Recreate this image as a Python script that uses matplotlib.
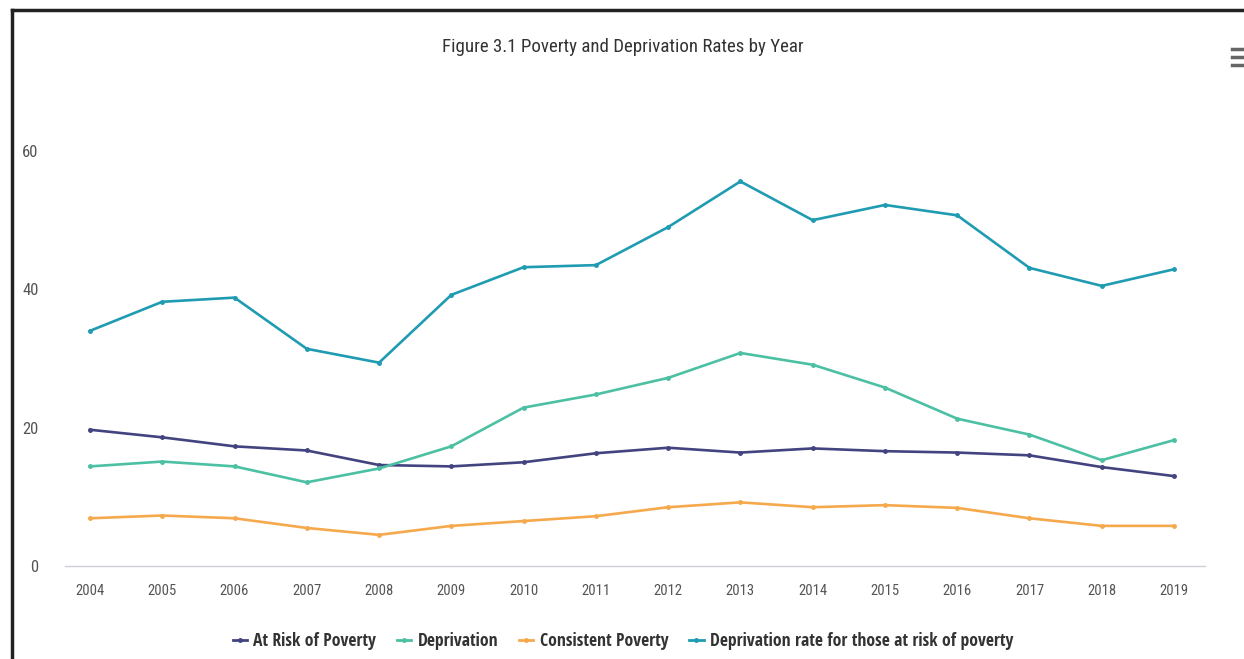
import matplotlib
matplotlib.use("Agg")
import matplotlib.pyplot as plt
from matplotlib.lines import Line2D

years = list(range(2004, 2020))
at_risk_of_poverty = [19.7, 18.6, 17.3, 16.7, 14.6, 14.4, 15.0, 16.3, 17.1, 16.4, 17.0, 16.6, 16.4, 16.0, 14.3, 13.0]
deprivation = [14.4, 15.1, 14.4, 12.1, 14.1, 17.3, 22.9, 24.8, 27.2, 30.8, 29.1, 25.8, 21.3, 19.0, 15.3, 18.2]
consistent_poverty = [6.9, 7.3, 6.9, 5.5, 4.5, 5.8, 6.5, 7.2, 8.5, 9.2, 8.5, 8.8, 8.4, 6.9, 5.8, 5.8]
deprivation_at_risk = [34.0, 38.2, 38.8, 31.4, 29.4, 39.2, 43.2, 43.5, 49.0, 55.6, 50.0, 52.2, 50.7, 43.1, 40.5, 42.9]

series_names = ["At Risk of Poverty", "Deprivation", "Consistent Poverty",
                "Deprivation rate for those at risk of poverty"]
series_colors = ["#434380", "#4cc0a2", "#f6a94c", "#1f9bb2"]
y_ticks = [0, 20, 40, 60]

FONT = ["Roboto Condensed", "DejaVu Sans"]
LEGEND_FONT = ["Open Sans Condensed", "Roboto Condensed", "DejaVu Sans"]
plt.rcParams["font.family"] = FONT

W, H = 1244, 659
fig = plt.figure(figsize=(W / 100, H / 100), dpi=100)
fig.patch.set_facecolor("white")

# plot area in pixel terms
left_px, right_px, top_px, base_px = 65, 1205, 130, 566
ax = fig.add_axes([left_px / W, 1 - base_px / H, (right_px - left_px) / W, (base_px - top_px) / H])

for vals, col in zip([at_risk_of_poverty, deprivation, consistent_poverty, deprivation_at_risk], series_colors):
    ax.plot(years, vals, color=col, lw=1.9, marker="o", markersize=2.5, solid_joinstyle="round")

px_per_year = (1174 - 90) / 15
ax.set_xlim(2004 - (90 - left_px) / px_per_year, 2019 + (right_px - 1174) / px_per_year)
px_per_unit = (566 - 151) / 60
ax.set_ylim(0, (base_px - top_px) / px_per_unit)

ax.set_xticks(years)
ax.set_xticklabels([str(y) for y in years])
ax.set_yticks(y_ticks)
ax.tick_params(axis="x", length=0, pad=13, labelsize=10.5, labelcolor="#555555")
ax.tick_params(axis="y", length=0, pad=19, labelsize=12, labelcolor="#555555")
for s in ["top", "right", "left"]:
    ax.spines[s].set_visible(False)
ax.spines["bottom"].set_color("#ccd0d8")
ax.spines["bottom"].set_linewidth(1.0)

fig.text(623 / W, 1 - 47 / H, "Figure 3.1 Poverty and Deprivation Rates by Year",
         ha="center", va="center", fontsize=13.6, color="#333333")

handles = [Line2D([0], [0], color=c, lw=2.0, marker="o", markersize=2.5) for c in series_colors]
leg = fig.legend(handles, series_names, loc="center", bbox_to_anchor=(623 / W, 1 - 641 / H),
                 ncol=4, frameon=False, handlelength=0.8, handletextpad=0.35, columnspacing=1.2,
                 prop={"family": LEGEND_FONT, "size": 12.7})
for t in leg.get_texts():
    t.set_color("#333333")

# frame edges along the top and left
fig.add_artist(Line2D([12 / W, 1.0], [1 - 10 / H, 1 - 10 / H], color="#222222", lw=2.5,
                      transform=fig.transFigure))
fig.add_artist(Line2D([12 / W, 12 / W], [0, 1 - 10 / H], color="#222222", lw=2.5,
                      transform=fig.transFigure))

# export menu glyph
for yb in (49, 57, 65):
    fig.add_artist(Line2D([1232 / W, 1244 / W], [1 - yb / H, 1 - yb / H], color="#666666", lw=2.5,
                          transform=fig.transFigure))

fig.savefig("out.png", dpi=100, facecolor="white")
